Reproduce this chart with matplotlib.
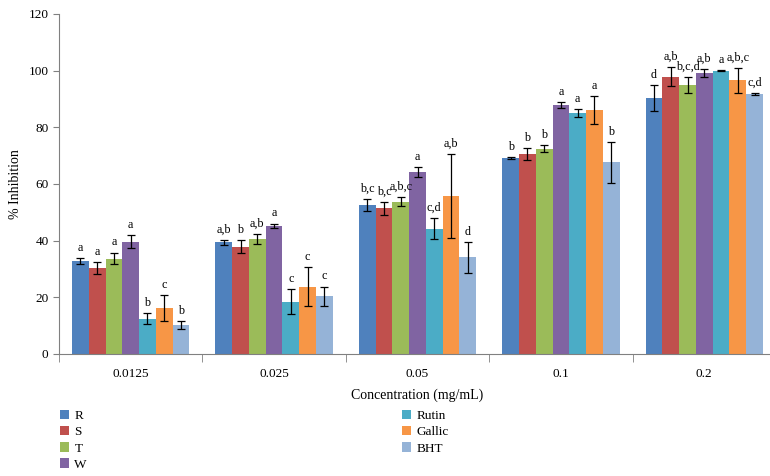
import matplotlib

matplotlib.use("Agg")
import matplotlib.pyplot as plt
import numpy as np

plt.rcParams["font.family"] = ["Liberation Serif", "DejaVu Serif"]

concentrations = ["0.0125", "0.025", "0.05", "0.1", "0.2"]
series = ["R", "S", "T", "W", "Rutin", "Gallic", "BHT"]
colors = ["#4F81BD", "#C0504D", "#9BBB59", "#8064A2", "#4BACC6", "#F79646", "#95B3D7"]

# % inhibition, одна строка на серию, по концентрациям
R = [32.7, 39.4, 52.6, 69.1, 90.4]
S = [30.2, 37.9, 51.4, 70.7, 97.9]
T = [33.7, 40.6, 53.8, 72.4, 94.9]
W = [39.7, 45.3, 64.2, 88.0, 99.2]
Rutin = [12.5, 18.4, 44.2, 85.1, 100.0]
Gallic = [16.2, 23.7, 55.8, 86.1, 96.6]
BHT = [10.1, 20.4, 34.1, 67.6, 91.7]

R_err = [1.1, 0.8, 2.1, 0.3, 4.5]
S_err = [2.1, 2.3, 2.2, 2.1, 3.4]
T_err = [2.1, 1.9, 1.5, 1.2, 2.8]
W_err = [2.3, 0.7, 1.8, 1.0, 1.5]
Rutin_err = [1.8, 4.4, 3.7, 1.4, 0.15]
Gallic_err = [4.6, 6.9, 14.9, 4.9, 4.4]
BHT_err = [1.4, 3.4, 5.4, 7.1, 0.3]

R_lbl = ["a", "a,b", "b,c", "b", "d"]
S_lbl = ["a", "b", "b,c", "b", "a,b"]
T_lbl = ["a", "a,b", "a,b,c", "b", "b,c,d"]
W_lbl = ["a", "a", "a", "a", "a,b"]
Rutin_lbl = ["b", "c", "c,d", "a", "a"]
Gallic_lbl = ["c", "c", "a,b", "a", "a,b,c"]
BHT_lbl = ["b", "c", "d", "b", "c,d"]

values = [R, S, T, W, Rutin, Gallic, BHT]
errors = [R_err, S_err, T_err, W_err, Rutin_err, Gallic_err, BHT_err]
letters = [R_lbl, S_lbl, T_lbl, W_lbl, Rutin_lbl, Gallic_lbl, BHT_lbl]

fig = plt.figure(figsize=(7.7, 4.76), dpi=100)
ax = fig.add_axes([59 / 770, 122 / 476, 717 / 770, 340 / 476])

x = np.arange(len(concentrations))
bw = 0.117
for i, name in enumerate(series):
    pos = x + (i - 3) * bw
    ax.bar(pos, values[i], bw, color=colors[i], label=name, zorder=2)
    ax.errorbar(pos, values[i], yerr=errors[i], fmt="none", ecolor="black",
                elinewidth=0.9, capsize=3, capthick=0.9, zorder=3)
    for p, v, e, t in zip(pos, values[i], errors[i], letters[i]):
        ax.annotate(t, (p, v + e), xytext=(0, 3), textcoords="offset points",
                    ha="center", va="bottom", fontsize=8.7)

ax.set_xlim(-0.5, len(concentrations) - 0.5)
ax.set_ylim(0, 120)
ax.set_yticks(range(0, 121, 20))
ax.set_xticks(x)
ax.set_xticklabels(concentrations)
ax.set_xticks(np.arange(-0.5, len(concentrations), 1.0), minor=True)
ax.tick_params(axis="x", which="major", length=0, pad=10, labelsize=9.5)
ax.tick_params(axis="x", which="minor", length=6, direction="out", color="#808080")
ax.tick_params(axis="y", length=4, direction="out", labelsize=9.5, color="#808080")
for side in ("top", "right"):
    ax.spines[side].set_visible(False)
ax.spines["left"].set_color("#808080")
ax.spines["bottom"].set_color("#808080")

ax.set_xlabel("Concentration (mg/mL)", fontsize=10, labelpad=6)
ax.set_ylabel("% Inhibition", fontsize=10, labelpad=5)

fig.legend(loc="upper left", bbox_to_anchor=(48 / 770, 1 - 398 / 476), ncol=2,
           frameon=False, fontsize=9.5, handlelength=0.7, handleheight=0.7,
           handletextpad=0.4, labelspacing=0.3, columnspacing=23.9)

fig.savefig("out.png", dpi=100)
